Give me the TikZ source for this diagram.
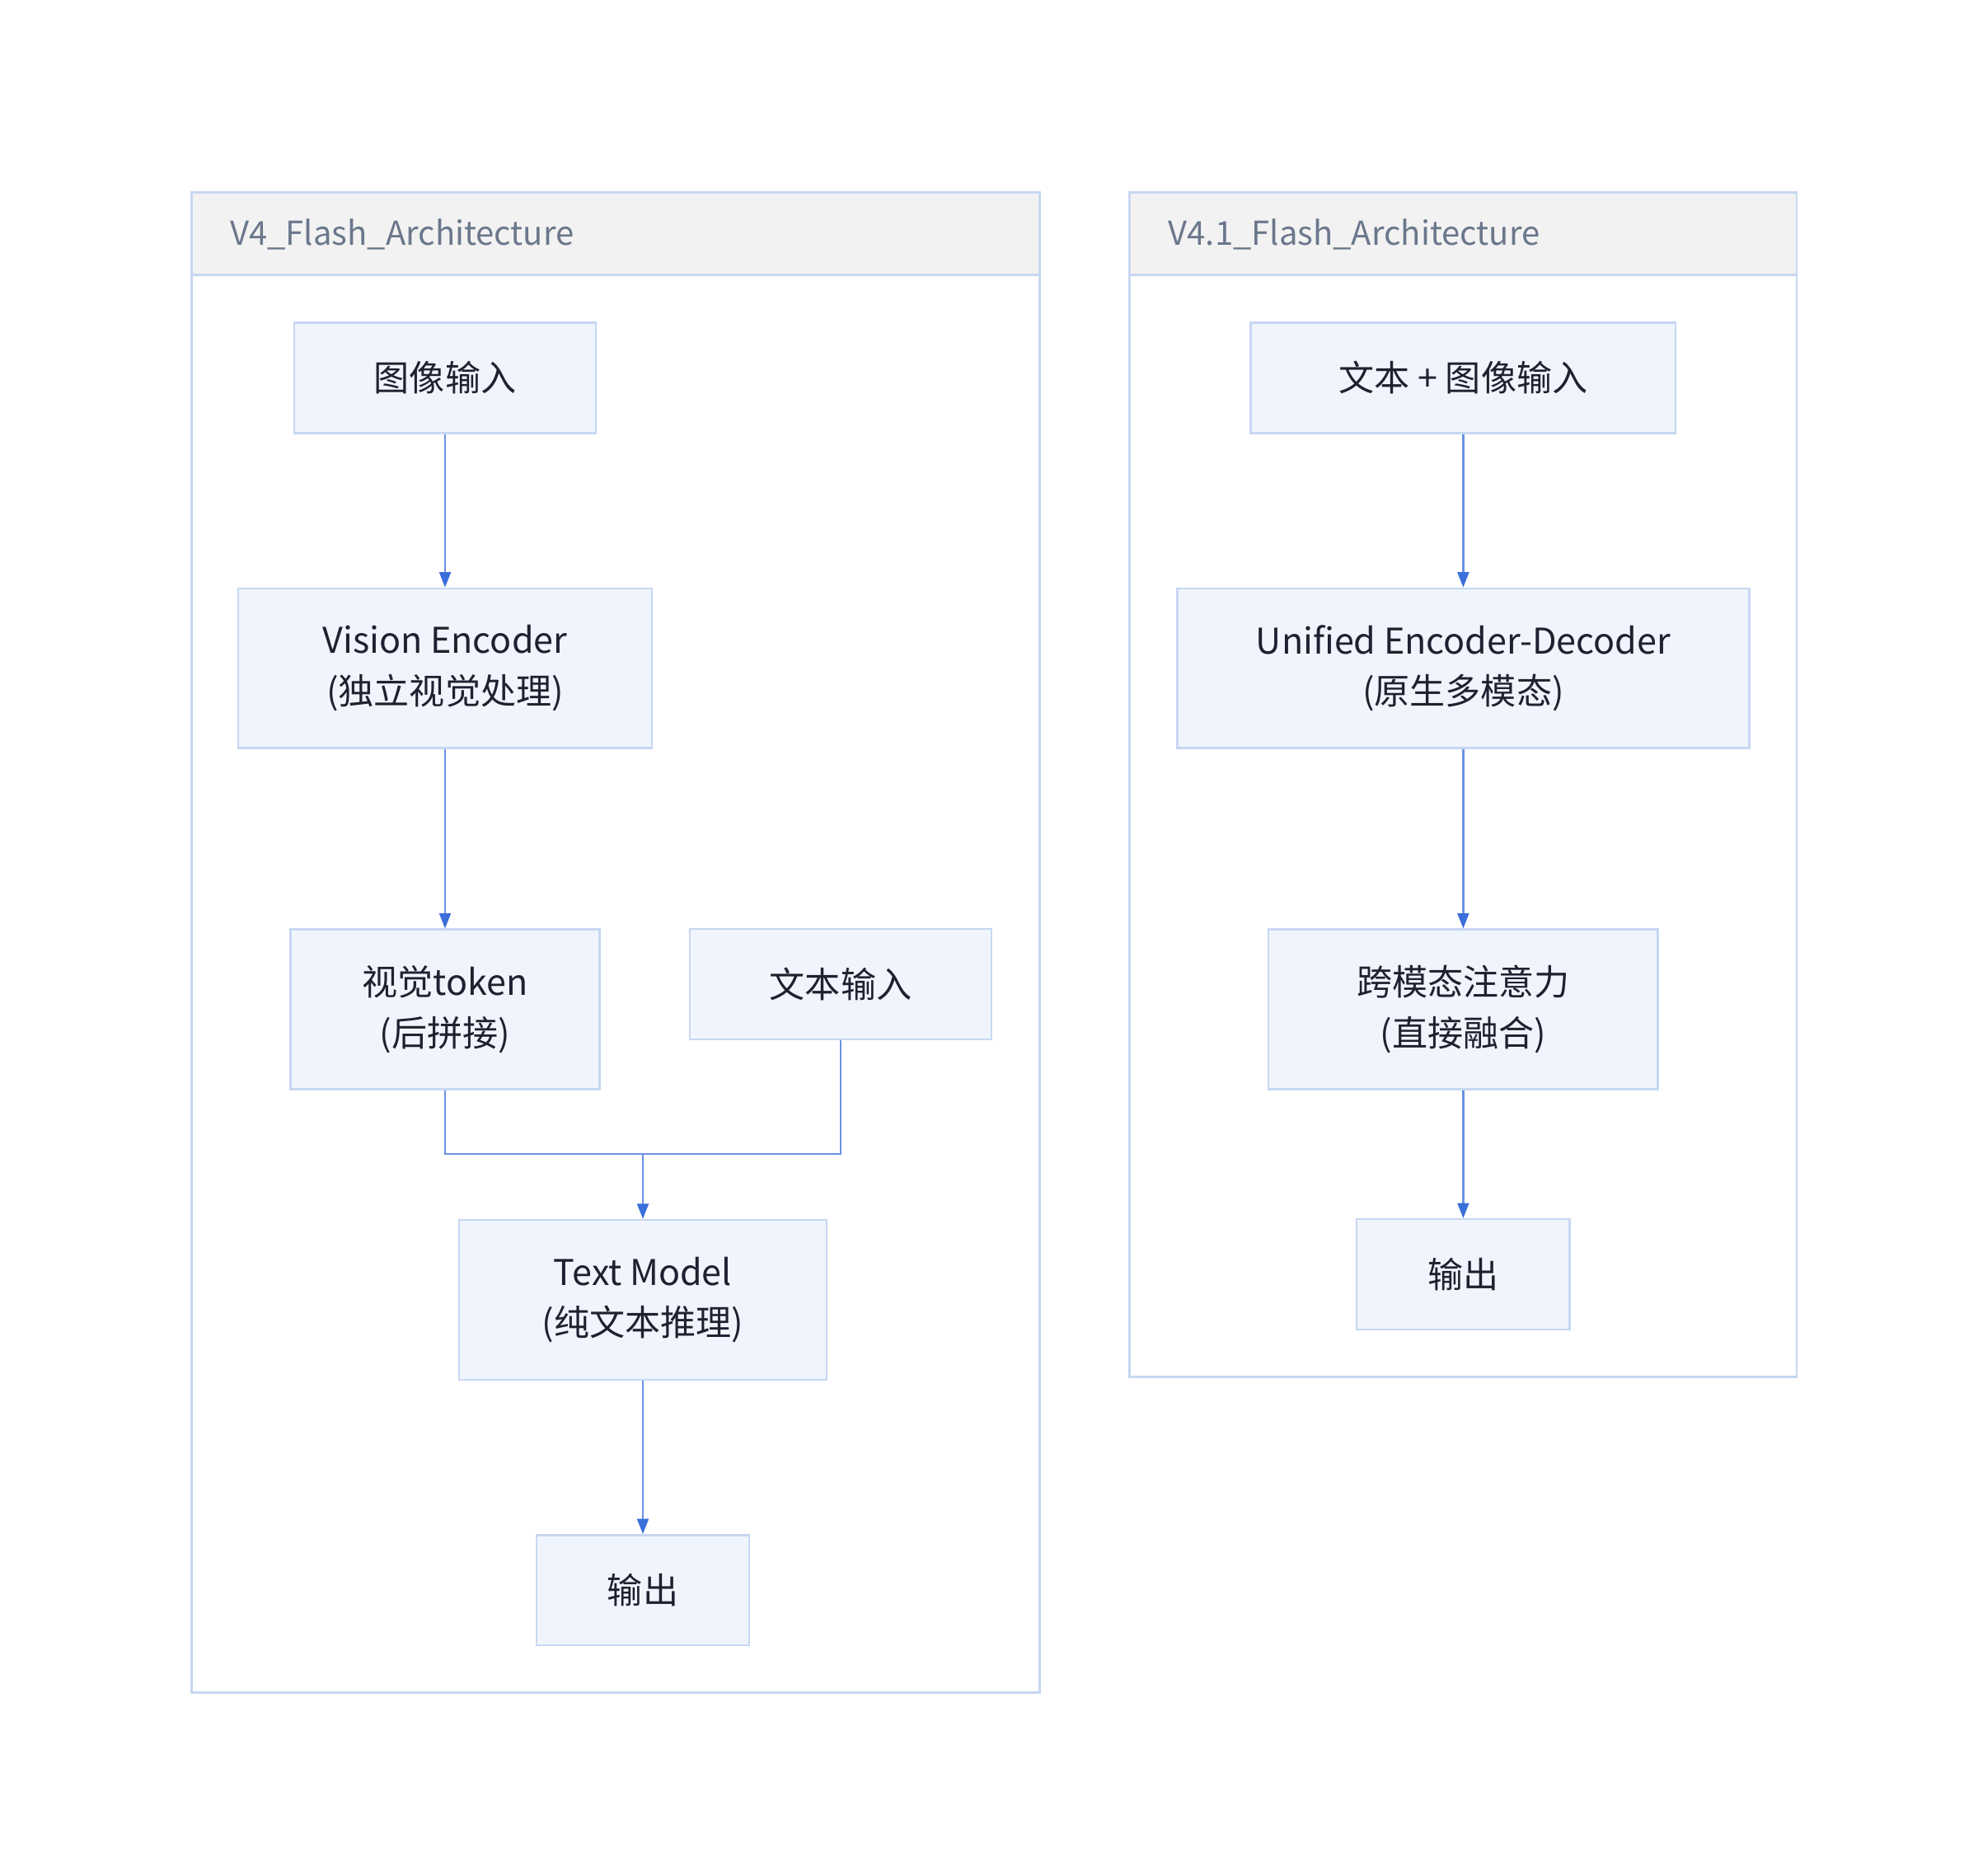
\documentclass[tikz,border=0pt]{standalone}
\usepackage{fontspec}
\setmainfont{Noto Sans CJK SC}
\usetikzlibrary{arrows.meta}
\definecolor{boxfill}{HTML}{F0F5FD}
\definecolor{boxline}{HTML}{C7D7F2}
\definecolor{arrowcol}{HTML}{3A6EDB}
\definecolor{headfill}{HTML}{F2F2F2}
\definecolor{headtext}{HTML}{6A778C}
\definecolor{nodetext}{HTML}{1E2230}
\tikzset{%
  myline/.style={draw=arrowcol!75, line width=1.6pt},
  myedge/.style={myline, -{Triangle[length=12pt,width=9pt,color=arrowcol,fill=arrowcol]}},
  mynode/.style={rectangle, draw=boxline, fill=boxfill, line width=1.6pt, align=center,
    text=nodetext, font=\fontsize{28}{40}\selectfont, inner sep=0pt},
  mygroup/.style={draw=boxline, line width=1.8pt, fill=white},
  myhead/.style={draw=boxline, line width=1.8pt, fill=headfill},
  mytitle/.style={anchor=west, text=headtext, font=\fontsize{26}{30}\selectfont}
}
\begin{document}
\begin{tikzpicture}[x=1pt,y=-1pt]
  \useasboundingbox (0,0) rectangle (1560,1479);
  % groups
  \draw[mygroup] (151,152) rectangle (820,1335);
  \draw[myhead] (151,152) rectangle (820,217);
  \node[mytitle] (t1) at (178,185) {V4\_Flash\_Architecture};
  \draw[mygroup] (891,152) rectangle (1417,1086);
  \draw[myhead] (891,152) rectangle (1417,217);
  \node[mytitle] (t2) at (918,185) {V4.1\_Flash\_Architecture};
  % left
  \node[mynode, minimum width=238pt, minimum height=87pt] (img) at (351,298) {图像输入};
  \node[mynode, minimum width=326pt, minimum height=126pt] (venc) at (351,527) {Vision Encoder\\(独立视觉处理)};
  \node[mynode, minimum width=244pt, minimum height=126pt] (vtok) at (351,796) {视觉token\\(后拼接)};
  \node[mynode, minimum width=238pt, minimum height=87pt] (txt) at (663,776) {文本输入};
  \node[mynode, minimum width=290pt, minimum height=126pt] (tmod) at (507,1025) {Text Model\\(纯文本推理)};
  \node[mynode, minimum width=168pt, minimum height=87pt] (out1) at (507,1254) {输出};
  \coordinate (mrg) at (507,910);
  \draw[myedge] (img) -- (venc);
  \draw[myedge] (venc) -- (vtok);
  \draw[myline] (vtok.south) |- (mrg) -| (txt.south);
  \draw[myedge] (mrg) -- (tmod);
  \draw[myedge] (tmod) -- (out1);
  % right
  \node[mynode, minimum width=335pt, minimum height=87pt] (both) at (1154,298) {文本 + 图像输入};
  \node[mynode, minimum width=451pt, minimum height=126pt] (uni) at (1154,527) {Unified Encoder-Decoder\\(原生多模态)};
  \node[mynode, minimum width=307pt, minimum height=126pt] (xatt) at (1154,796) {跨模态注意力\\(直接融合)};
  \node[mynode, minimum width=168pt, minimum height=87pt] (out2) at (1154,1005) {输出};
  \draw[myedge] (both) -- (uni);
  \draw[myedge] (uni) -- (xatt);
  \draw[myedge] (xatt) -- (out2);
\end{tikzpicture}
\end{document}
